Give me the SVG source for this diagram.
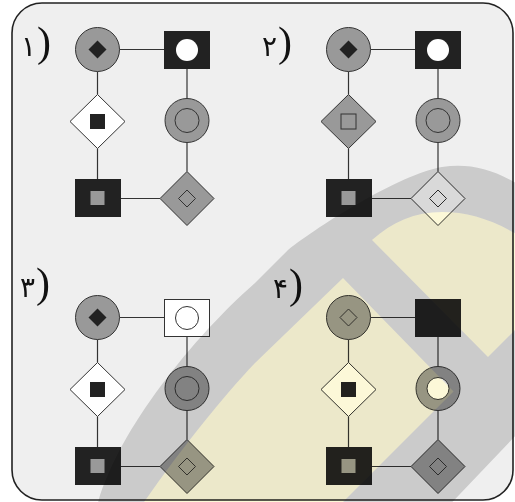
<svg xmlns="http://www.w3.org/2000/svg" width="515" height="502" viewBox="0 0 515 502">
<style>
.frame{fill:#efefef;stroke:#222;stroke-width:1.6}
.g{fill:#999;stroke:#333;stroke-width:1}
.k{fill:#222;stroke:#222;stroke-width:1}
.w{fill:#fff;stroke:#333;stroke-width:1}
.o{fill:none;stroke:#333;stroke-width:1}
.kd{fill:#222;stroke:none}
.gs{fill:#999;stroke:none}
.wc{fill:#fff;stroke:none}
.lbl{fill:#111}
.dg{font-family:"DejaVu Sans",sans-serif;font-size:28px}
.pr{font-family:"Liberation Serif",serif;font-size:42px}
.wm{mix-blend-mode:multiply}
</style>
<defs>
<g id="conns" stroke="#333" stroke-width="1.2" fill="none">
<line x1="119.5" y1="49.5" x2="164.5" y2="49.5"/>
<line x1="187" y1="68.5" x2="187" y2="98.5"/>
<line x1="187" y1="142.5" x2="187" y2="171.5"/>
<line x1="160" y1="198.5" x2="120.5" y2="198.5"/>
<line x1="97.5" y1="179.5" x2="97.5" y2="148.5"/>
<line x1="97.5" y1="94.5" x2="97.5" y2="71.5"/>
</g>
</defs>
<rect class="frame" x="12" y="3" width="501" height="497" rx="30" ry="30"/>

<g id="label-1"><text class="lbl" x="21" y="56"><tspan class="dg">۱</tspan><tspan class="pr" dx="1">)</tspan></text></g>
<g id="label-2"><text class="lbl" x="262" y="56"><tspan class="dg">۲</tspan><tspan class="pr" dx="1">)</tspan></text></g>
<g id="label-3"><text class="lbl" x="20" y="297"><tspan class="dg">۳</tspan><tspan class="pr" dx="1">)</tspan></text></g>
<g id="label-4"><text class="lbl" x="273" y="298"><tspan class="dg">۴</tspan><tspan class="pr" dx="1">)</tspan></text></g>

<g id="connectors">
<use href="#conns"/>
<use href="#conns" transform="translate(251,0)"/>
<use href="#conns" transform="translate(0,268)"/>
<use href="#conns" transform="translate(251,268)"/>
</g>

<!-- Panel 1 -->
<g id="p1">
<g id="p1-tl"><circle class="g" cx="97.5" cy="49.5" r="22"/><polygon class="kd" points="97.5,40.5 106.5,49.5 97.5,58.5 88.5,49.5"/></g>
<g id="p1-tr"><rect class="k" x="164.5" y="31.5" width="45" height="37"/><circle class="wc" cx="187" cy="50" r="11"/></g>
<g id="p1-ml"><polygon class="w" points="97.5,94.5 125,121.5 97.5,148.5 70,121.5"/><rect class="kd" x="90" y="114" width="15" height="15"/></g>
<g id="p1-mr"><circle class="g" cx="187" cy="120.5" r="22"/><circle class="o" cx="187" cy="120.5" r="12"/></g>
<g id="p1-bl"><rect class="k" x="75.5" y="179.5" width="45" height="37"/><rect class="gs" x="90.5" y="191" width="14" height="14"/></g>
<g id="p1-br"><polygon class="g" points="187,171.5 214,198.5 187,225.5 160,198.5"/><polygon class="o" points="187,190 195.5,198.5 187,207 178.5,198.5"/></g>
</g>

<!-- Panel 2 -->
<g id="p2" transform="translate(251,0)">
<g id="p2-tl"><circle class="g" cx="97.5" cy="49.5" r="22"/><polygon class="kd" points="97.5,40.5 106.5,49.5 97.5,58.5 88.5,49.5"/></g>
<g id="p2-tr"><rect class="k" x="164.5" y="31.5" width="45" height="37"/><circle class="wc" cx="187" cy="50" r="11"/></g>
<g id="p2-ml"><polygon class="g" points="97.5,94.5 125,121.5 97.5,148.5 70,121.5"/><rect class="o" x="90" y="114" width="15" height="15"/></g>
<g id="p2-mr"><circle class="g" cx="187" cy="120.5" r="22"/><circle class="o" cx="187" cy="120.5" r="12"/></g>
<g id="p2-bl"><rect class="k" x="75.5" y="179.5" width="45" height="37"/><rect class="gs" x="90.5" y="191" width="14" height="14"/></g>
<g id="p2-br"><polygon class="w" points="187,171.5 214,198.5 187,225.5 160,198.5"/><polygon class="o" points="187,190 195.5,198.5 187,207 178.5,198.5"/></g>
</g>

<!-- Panel 3 -->
<g id="p3" transform="translate(0,268)">
<g id="p3-tl"><circle class="g" cx="97.5" cy="49.5" r="22"/><polygon class="kd" points="97.5,40.5 106.5,49.5 97.5,58.5 88.5,49.5"/></g>
<g id="p3-tr"><rect class="w" x="164.5" y="31.5" width="45" height="37"/><circle class="w" cx="187" cy="50" r="11.5"/></g>
<g id="p3-ml"><polygon class="w" points="97.5,94.5 125,121.5 97.5,148.5 70,121.5"/><rect class="kd" x="90" y="114" width="15" height="15"/></g>
<g id="p3-mr"><circle class="g" cx="187" cy="120.5" r="22"/><circle class="o" cx="187" cy="120.5" r="12"/></g>
<g id="p3-bl"><rect class="k" x="75.5" y="179.5" width="45" height="37"/><rect class="gs" x="90.5" y="191" width="14" height="14"/></g>
<g id="p3-br"><polygon class="g" points="187,171.5 214,198.5 187,225.5 160,198.5"/><polygon class="o" points="187,190 195.5,198.5 187,207 178.5,198.5"/></g>
</g>

<!-- Panel 4 -->
<g id="p4" transform="translate(251,268)">
<g id="p4-tl"><circle class="g" cx="97.5" cy="49.5" r="22"/><polygon class="o" points="97.5,41 106,49.5 97.5,58 89,49.5"/></g>
<g id="p4-tr"><rect class="k" x="164.5" y="31.5" width="45" height="37"/></g>
<g id="p4-ml"><polygon class="w" points="97.5,94.5 125,121.5 97.5,148.5 70,121.5"/><rect class="kd" x="90" y="114" width="15" height="15"/></g>
<g id="p4-mr"><circle class="g" cx="187" cy="120.5" r="22"/><circle class="w" cx="187" cy="120.5" r="11"/></g>
<g id="p4-bl"><rect class="k" x="75.5" y="179.5" width="45" height="37"/><rect class="gs" x="90.5" y="191" width="14" height="14"/></g>
<g id="p4-br"><polygon class="g" points="187,171.5 214,198.5 187,225.5 160,198.5"/><polygon class="o" points="187,190 195.5,198.5 187,207 178.5,198.5"/></g>
</g>

<!-- watermark overlay -->
<g id="watermark">
<path class="wm" fill="#d9d9d9" fill-rule="evenodd" d="M95,515 C110,440 190,340 255,283 L288,250 C320,225 398,175 442,167 C475,162 505,172 540,200 L540,410 L440,515 Z M372,240 C392,222 415,212 442,212 C475,212 505,224 540,250 L540,305 L488,357 Z M343,278 L453.5,391.5 L330,515 L135,515 C180,450 220,400 255,363 Z"/>
<path class="wm" fill="#fcf8d8" d="M372,240 C392,222 415,212 442,212 C475,212 505,224 540,250 L540,305 L488,357 Z M343,278 L453.5,391.5 L330,515 L135,515 C180,450 220,400 255,363 Z"/>
</g>
</svg>
